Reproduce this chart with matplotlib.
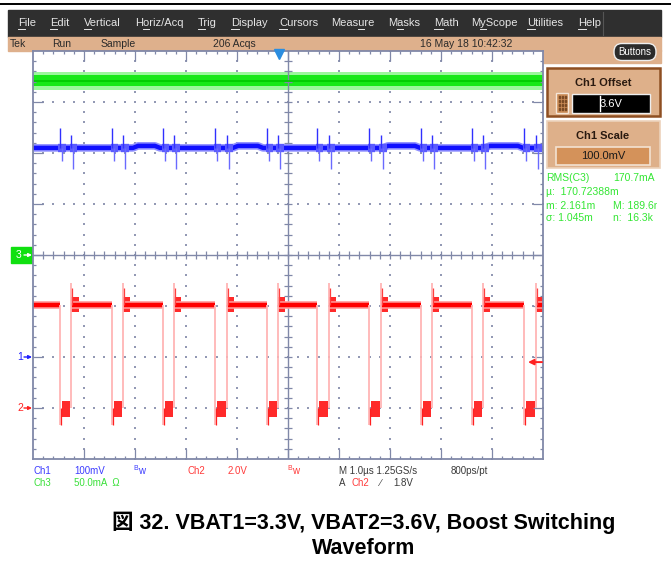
import matplotlib
matplotlib.use("Agg")
import matplotlib.pyplot as plt
from matplotlib import transforms
from matplotlib.collections import LineCollection
from matplotlib.patches import Rectangle, FancyBboxPatch
import numpy as np

W, H = 671, 575

# horizontal: 1.0 us/div, 10 divisions, trigger point in the middle
t_left, t_right = -5.0, 5.0
trig_pos_us = -0.17

# Ch2 (red) switch node, 2.0 V/div, marker 3 div below centre
ch2_scale = 2.0
ch2_pos = -3.0
ch2_fall_us = [-4.47, -3.45, -2.45, -1.43, -0.41, 0.57, 1.59, 2.61, 3.61, 4.63]
ch2_rise_us = [-4.25, -3.24, -2.24, -1.20, -0.20, 0.80, 1.82, 2.82, 3.82, 4.86]
ch2_high_v = 4.02
ch2_low_v = 0.0
ch2_over_v = 4.9       # peak at the rising edge
ch2_under_v = -0.65    # dip at the falling edge
ch2_ring_hi = (3.75, 4.35)
ch2_ring_lo = (-0.35, 0.28)
ch2_ring_us = 0.15
ch2_trig_v = 1.8

# Ch1 (blue) output ripple, 100 mV/div, offset 3.6 V, marker 2 div below centre
ch1_scale = 0.1
ch1_offset = 3.6
ch1_pos = -2.0
ch1_level_v = 4.01
ch1_hump_us = [(-3.04, -2.51), (-1.08, -0.49), (1.86, 2.59), (3.86, 4.61)]
ch1_hump_v = 0.004
ch1_fall_spike_v = (0.040, -0.025)
ch1_rise_spike_v = (0.026, -0.042)

# Ch3 (green) inductor current, 50 mA/div, marker at centre
ch3_scale = 50.0
ch3_pos = 0.0
ch3_rms_ma = 170.7
ch3_core_ma = 5.5
ch3_fringe_ma = 9.0

menu_items = ["File", "Edit", "Vertical", "Horiz/Acq", "Trig", "Display", "Cursors",
              "Measure", "Masks", "Math", "MyScope", "Utilities", "Help"]
menu_hotkey = [0, 0, 0, 1, 0, 0, 0, 4, 1, 0, 1, 0, 0]
menu_x = [18, 50, 84, 135, 198, 231, 279, 331, 388, 434, 471, 527, 578]
status_items = ["Tek", "Run", "Sample", "206 Acqs", "16 May 18 10:42:32"]
status_x = [10, 52, 101, 213, 420]
meas_left = ["RMS(C3)", "\u00b5:  170.72388m", "m: 2.161m", "\u03c3: 1.045m"]
meas_right = ["170.7mA", "", "M: 189.6m", "n:  16.3k"]

plt.rcParams['font.family'] = ['Liberation Sans', 'DejaVu Sans']


def ch1_div(v):
    return (v - ch1_offset) / ch1_scale + ch1_pos


def ch2_div(v):
    return v / ch2_scale + ch2_pos


def ch3_div(i):
    return i / ch3_scale + ch3_pos


fig = plt.figure(figsize=(W / 100, H / 100), dpi=100)
bg = fig.add_axes([0, 0, 1, 1])
bg.set_xlim(0, W)
bg.set_ylim(H, 0)
bg.axis('off')
renderer = fig.canvas.get_renderer()


def text_width(s, **kw):
    # width in pixels (bg axes is 1 unit per pixel)
    if not s:
        return 0.0
    t = bg.text(0, 0, s, **kw)
    w = t.get_window_extent(renderer).width
    t.remove()
    return w


# frame line, menu bar, status bar
bg.plot([0, W], [4, 4], color='black', lw=1.4)
bg.add_patch(Rectangle((8, 10), 653, 27, color='#2f2f2f'))
bg.plot([603, 603], [12, 35], color='#555555', lw=0.8)
for name, x, k in zip(menu_items, menu_x, menu_hotkey):
    bg.text(x, 23, name, color='#e6e6e6', fontsize=8, va='center')
    x0 = x + text_width(name[:k], fontsize=8)
    x1 = x + text_width(name[:k + 1], fontsize=8)
    bg.plot([x0, x1], [28.5, 28.5], color='#e6e6e6', lw=0.7)
bg.add_patch(Rectangle((8, 37), 653, 13.5, color='#deb08c'))
bg.add_patch(Rectangle((543, 50), 118, 13, color='#deb08c'))
for name, x in zip(status_items, status_x):
    bg.text(x, 44, name, color='#2a2a2a', fontsize=7.5, va='center')
bg.add_patch(FancyBboxPatch((614, 43.5), 42, 17, boxstyle='round,pad=0,rounding_size=8',
                            fc='#2b2b2b', ec='#eeeeee', lw=1))
bg.text(635, 52, "Buttons", color='white', fontsize=7, ha='center', va='center')

# right panel
bg.add_patch(Rectangle((547, 68), 113, 48, fc='#deb08a', ec='#8e4f22', lw=1.8))
bg.text(603, 83, "Ch1 Offset", fontsize=8, weight='bold', color='#2a1a10', ha='center', va='center')
bg.add_patch(Rectangle((556, 93), 12, 20, fc='#c98a55', ec='#f5e6d8', lw=1))
for r in range(4):
    for c in range(3):
        bg.add_patch(Rectangle((558.5 + c * 3, 96 + r * 4), 1.6, 1.6, color='#7a4a25'))
bg.add_patch(Rectangle((572, 94), 78, 19, fc='black', ec='#eeeeee', lw=1))
bg.plot([600, 600], [96, 111], color='white', lw=1)
bg.text(611, 104, "3.6V", color='white', fontsize=8, ha='center', va='center')

bg.add_patch(Rectangle((547, 121), 113, 47, fc='#deb08a', ec='#ecd2bb', lw=1.2))
bg.text(603, 136, "Ch1 Scale", fontsize=8, weight='bold', color='#2a1a10', ha='center', va='center')
bg.add_patch(Rectangle((556, 147), 94, 18, fc='#d4925a', ec='#f3e2d2', lw=1.2))
bg.text(603, 156, "100.0mV", fontsize=8, color='#1a1a1a', ha='center', va='center')

meas_y = [178, 192, 206, 218]
clip = transforms.Bbox.from_extents(0, 0, 657, fig.bbox.height)
for txt, y in zip(meas_left, meas_y):
    bg.text(546, y, txt, color='#33e633', fontsize=7.5, va='center')
for txt, y in zip(meas_right, meas_y):
    t = bg.text(613, y, txt, color='#33e633', fontsize=7.5, va='center')
    t.set_clip_box(clip)
    t.set_clip_on(True)

# info rows below graticule
blue_t, green_t, red_t, gray_t = '#3c3cff', '#3ae03a', '#ff3b3b', '#3a3a3a'
bg.text(34, 471, "Ch1", color=blue_t, fontsize=7, va='center')
bg.text(74, 471, "100mV", color=blue_t, fontsize=7, va='center')
bg.text(133, 468, "B", color=blue_t, fontsize=5, va='center')
bg.text(138.5, 471, "w", color=blue_t, fontsize=7, va='center')
bg.text(187, 471, "Ch2", color=red_t, fontsize=7, va='center')
bg.text(228, 471, "2.0V", color=red_t, fontsize=7, va='center')
bg.text(287, 468, "B", color=red_t, fontsize=5, va='center')
bg.text(292.5, 471, "w", color=red_t, fontsize=7, va='center')
bg.text(339, 471, "M 1.0\u00b5s 1.25GS/s", color=gray_t, fontsize=7, va='center')
bg.text(451, 471, "800ps/pt", color=gray_t, fontsize=7, va='center')
bg.text(34, 483, "Ch3", color=green_t, fontsize=7, va='center')
bg.text(74, 483, "50.0mA  \u03a9", color=green_t, fontsize=7, va='center')
bg.text(339, 483, "A", color=gray_t, fontsize=7, va='center')
bg.text(352, 483, "Ch2", color=red_t, fontsize=7, va='center')
bg.text(380, 483, "\u2215", color=gray_t, fontsize=7, va='center')
bg.text(393, 483, "1.8V", color=gray_t, fontsize=7, va='center')

cap_font = ['Liberation Sans', 'Noto Sans CJK JP']
bg.text(364, 523, "\u56f3 32. VBAT1=3.3V, VBAT2=3.6V, Boost Switching", family=cap_font,
        fontsize=15.5, weight='bold', ha='center', va='center')
bg.text(364, 548, "Waveform", family=cap_font, fontsize=15.5, weight='bold', ha='center', va='center')

# graticule
ax = fig.add_axes([33 / W, (H - 459) / H, 510 / W, 408 / H])
ax.set_xlim(t_left, t_right)
ax.set_ylim(-4, 4)
ax.set_xticks([])
ax.set_yticks([])
grat = '#8088a8'
for s in ax.spines.values():
    s.set_color(grat)
    s.set_linewidth(1.3)

xs = np.arange(-5, 5.001, 0.2)
ys = np.arange(-4, 4.001, 0.2)


def is_major(v):
    return abs(v - round(v)) < 1e-6


segs = []
for y in ys[1:-1]:
    L = 0.2 if is_major(y) else 0.06
    segs += [[(-5, y), (-5 + L, y)], [(5, y), (5 - L, y)], [(-0.08, y), (0.08, y)]]
for x in xs[1:-1]:
    L = 0.2 if is_major(x) else 0.06
    segs += [[(x, 4), (x, 4 - L)], [(x, -4), (x, -4 + L)], [(x, -0.08), (x, 0.08)]]
ax.add_collection(LineCollection(segs, colors=grat, linewidths=0.9))
ax.axhline(0, color=grat, lw=1)
ax.axvline(0, color=grat, lw=1)
dx, dy = [], []
for k in range(-4, 5):
    if k != 0:
        dx += [k] * len(ys)
        dy += list(ys)
for k in range(-3, 4):
    if k != 0:
        dx += list(xs)
        dy += [k] * len(xs)
ax.scatter(dx, dy, s=1.2, marker='s', color='#9399b4', linewidths=0)

# Ch3 trace
ax.fill_between([t_left, t_right], ch3_div(ch3_rms_ma - ch3_fringe_ma), ch3_div(ch3_rms_ma + ch3_fringe_ma),
                color='#9cf79c', lw=0)
ax.fill_between([t_left, t_right], ch3_div(ch3_rms_ma - ch3_core_ma), ch3_div(ch3_rms_ma + ch3_core_ma),
                color='#18e818', lw=0)
ax.axhline(ch3_div(ch3_rms_ma), color='#00c800', lw=1.2)

# Ch1 trace
bt, bv = [t_left], [ch1_level_v]
for a, b in ch1_hump_us:
    bt += [a, a + 0.1, b - 0.1, b]
    bv += [ch1_level_v, ch1_level_v + ch1_hump_v, ch1_level_v + ch1_hump_v, ch1_level_v]
bt.append(t_right)
bv.append(ch1_level_v)
bd = [ch1_div(v) for v in bv]
ax.plot(bt, bd, color='#9090ff', lw=5.5, solid_joinstyle='round')
ax.plot(bt, bd, color='#1010ff', lw=3.2, solid_joinstyle='round')
for times, (up, dn) in [(ch2_fall_us, ch1_fall_spike_v), (ch2_rise_us, ch1_rise_spike_v)]:
    for t in times:
        ax.hlines(ch1_div(ch1_level_v), t - 0.03, t + 0.12, color='#5a5aff', lw=6)
        ax.vlines(t, ch1_div(ch1_level_v), ch1_div(ch1_level_v + up), color='#3030ff', lw=1)
        ax.vlines(t + 0.04, ch1_div(ch1_level_v + dn), ch1_div(ch1_level_v), color='#6a6aff', lw=1)

# Ch2 trace
hi_start = [t_left] + ch2_rise_us
hi_end = ch2_fall_us + [t_right]
hi_lvl = [ch2_div(ch2_high_v)] * len(hi_start)
ax.hlines(hi_lvl, hi_start, hi_end, color='#ff9a9a', lw=5.5)
ax.hlines(hi_lvl, hi_start, hi_end, color='#ff0000', lw=3.2)
ax.vlines(ch2_fall_us, ch2_div(ch2_under_v), ch2_div(ch2_high_v), color='#ffb5b5', lw=1.3)
ax.vlines(ch2_rise_us, ch2_div(ch2_low_v), ch2_div(ch2_over_v), color='#ffb5b5', lw=1.3)
ax.vlines([t + 0.02 for t in ch2_fall_us], ch2_div(ch2_under_v), ch2_div(ch2_low_v), color='#ff2020', lw=0.9)
ax.vlines([t + 0.02 for t in ch2_rise_us], ch2_div(ch2_high_v), ch2_div(ch2_over_v - 0.2), color='#ff4040', lw=0.9)
ax.bar(ch2_rise_us, ch2_div(ch2_ring_hi[1]) - ch2_div(ch2_ring_hi[0]), bottom=ch2_div(ch2_ring_hi[0]),
       width=ch2_ring_us, align='edge', color='#ff2a2a', lw=0)
ax.bar([f + 0.03 for f in ch2_fall_us], ch2_div(ch2_ring_lo[1]) - ch2_div(ch2_ring_lo[0]),
       bottom=ch2_div(ch2_ring_lo[0]), width=[r - f - 0.05 for f, r in zip(ch2_fall_us, ch2_rise_us)],
       align='edge', color='#ff2a2a', lw=0)

# trigger position and level markers
ax.plot([trig_pos_us], [3.95], marker='v', ms=7, color='#2b8de0', clip_on=False, zorder=5)
mix = transforms.blended_transform_factory(bg.transData, ax.transData)
lvl = ch2_div(ch2_trig_v)
ax.annotate('', xy=(528, lvl), xytext=(542, lvl), xycoords=mix, textcoords=mix,
            arrowprops=dict(arrowstyle='-|>', color='#ff2020', lw=1.4, mutation_scale=8,
                            shrinkA=0, shrinkB=0),
            annotation_clip=False)

# channel markers on the left
bg.add_patch(Rectangle((11, ch3_pos - 0.15), 22, 0.3, color='#10e010', transform=mix))
bg.text(16, ch3_pos, "3", color='white', fontsize=7.5, va='center', transform=mix)
for pos, col, label in [(ch3_pos, 'white', None), (ch1_pos, '#2020ff', "1"), (ch2_pos, '#ff2020', "2")]:
    if label:
        bg.text(17, pos, label, color=col, fontsize=7.5, va='center', transform=mix)
    bg.annotate('', xy=(32, pos), xytext=(24, pos), xycoords=mix, textcoords=mix,
                arrowprops=dict(arrowstyle='-|>', color=col, lw=1, mutation_scale=5,
                                shrinkA=0, shrinkB=0))

fig.savefig("out.png", dpi=100)
